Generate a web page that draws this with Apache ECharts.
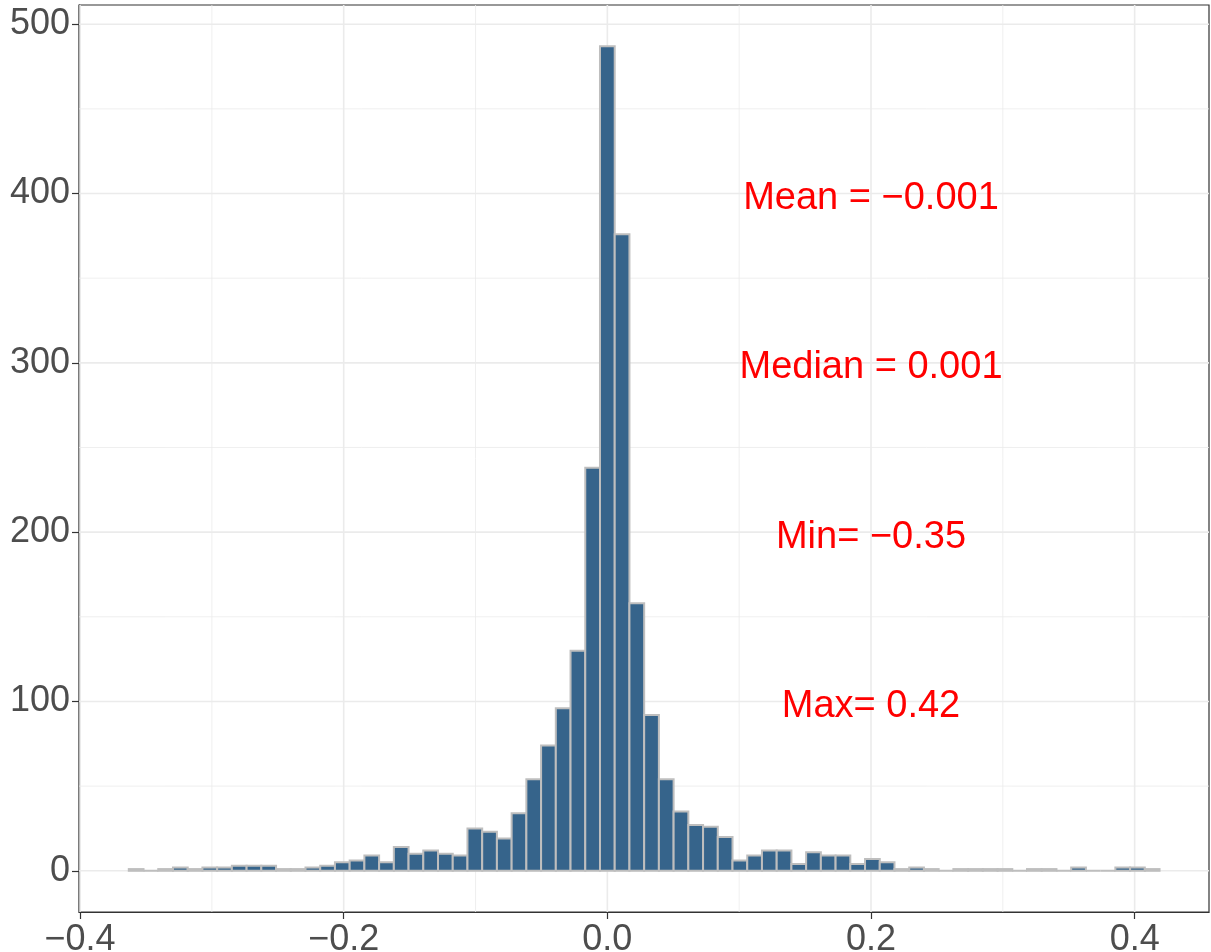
<!DOCTYPE html>
<html>
<head>
<meta charset="utf-8">
<script src="https://cdn.jsdelivr.net/npm/echarts@6/dist/echarts.min.js"></script>
<style>
  html, body { margin: 0; padding: 0; background: #ffffff; }
  #chart { width: 1211px; height: 952px; }
</style>
</head>
<body>
<div id="chart"></div>
<script>
// Histogram of returns: 70 bins centred on multiples of the bin width
const binWidth = 0.01117;
const firstBinIndex = -32;
const counts = [
  1, 0, 1, 2, 1, 2, 2, 3, 3, 3,
  1, 1, 2, 3, 5, 6, 9, 5, 14, 10,
  12, 10, 9, 25, 23, 19, 34, 54, 74, 96,
  130, 238, 487, 376, 158, 92, 54, 35, 27, 26,
  20, 6, 9, 12, 12, 4, 11, 9, 9, 4,
  7, 5, 1, 2, 1, 0, 1, 1, 1, 1,
  0, 1, 1, 0, 2, 0, 0, 2, 2, 1
];

// Axis breaks
const xTicks = [-0.4, -0.2, 0, 0.2, 0.4];
const xMinorBreaks = [-0.3, -0.1, 0.1, 0.3];
const yTicks = [0, 100, 200, 300, 400, 500];
const yMinorBreaks = [50, 150, 250, 350, 450];

// Summary statistics written on the panel
const statLabels = ['Mean = \u22120.001', 'Median = 0.001', 'Min= \u22120.35', 'Max= 0.42'];
const statX = [0.2, 0.2, 0.2, 0.2];
const statY = [400, 300, 200, 100];

const FONT = '"Liberation Sans", Arial, Helvetica, sans-serif';
const xRange = [-0.4008, 0.4564];
const yRange = [-24.35, 511.35];

const bins = counts.map((c, i) => {
  const k = firstBinIndex + i;
  return [(k - 0.5) * binWidth, (k + 0.5) * binWidth, c];
});

// grid lines: [orientation (0 vertical, 1 horizontal), value, major flag]
const gridLines = []
  .concat(xMinorBreaks.map(v => [0, v, 0]))
  .concat(yMinorBreaks.map(v => [1, v, 0]))
  .concat(xTicks.map(v => [0, v, 1]))
  .concat(yTicks.map(v => [1, v, 1]));

const statData = statLabels.map((t, i) => [statX[i], statY[i], i]);

function fmtNum(v) {
  const s = Math.abs(v).toFixed(1);
  return v < -1e-9 ? '\u2212' + s : s;
}

const axisColor = '#333333';

const chart = echarts.init(document.getElementById('chart'), null, { renderer: 'canvas' });

chart.setOption({
  animation: false,
  backgroundColor: '#ffffff',
  grid: {
    left: 79, right: 2, top: 5, bottom: 40,
    outerBoundsMode: 'none',
    containLabel: false,
    show: true,
    backgroundColor: 'transparent',
    borderColor: axisColor,
    borderWidth: 1.2
  },
  xAxis: {
    type: 'value',
    position: 'bottom',
    min: xRange[0],
    max: xRange[1],
    axisLine: { show: true, onZero: false, lineStyle: { color: axisColor, width: 1.2 } },
    splitLine: { show: false },
    axisTick: {
      show: true, inside: false, length: 7,
      customValues: xTicks,
      lineStyle: { color: axisColor, width: 1.2 }
    },
    axisLabel: {
      customValues: xTicks,
      formatter: fmtNum,
      color: '#4D4D4D',
      fontSize: 36,
      fontFamily: FONT,
      margin: 10
    }
  },
  yAxis: {
    type: 'value',
    position: 'left',
    min: yRange[0],
    max: yRange[1],
    axisLine: { show: true, onZero: false, lineStyle: { color: axisColor, width: 1.2 } },
    splitLine: { show: false },
    axisTick: {
      show: true, inside: false, length: 7,
      customValues: yTicks,
      lineStyle: { color: axisColor, width: 1.2 }
    },
    axisLabel: {
      customValues: yTicks,
      formatter: v => String(Math.round(v)),
      color: '#4D4D4D',
      fontSize: 36,
      fontFamily: FONT,
      margin: 9,
      padding: [6, 0, 0, 0]
    }
  },
  series: [
    {
      type: 'custom',
      silent: true,
      z: 1,
      data: gridLines,
      encode: { x: -1, y: -1 },
      renderItem: function (params, api) {
        const cs = params.coordSys;
        const orient = api.value(0);
        const v = api.value(1);
        const major = api.value(2) === 1;
        let shape;
        if (orient === 0) {
          const x = api.coord([v, 0])[0];
          shape = { x1: x, y1: cs.y, x2: x, y2: cs.y + cs.height };
        } else {
          const y = api.coord([0, v])[1];
          shape = { x1: cs.x, y1: y, x2: cs.x + cs.width, y2: y };
        }
        return {
          type: 'line',
          shape: shape,
          style: { stroke: '#EBEBEB', lineWidth: major ? 1.6 : 0.8 }
        };
      }
    },
    {
      type: 'custom',
      z: 3,
      data: bins,
      encode: { x: [0, 1], y: 2 },
      renderItem: function (params, api) {
        const top = api.coord([api.value(0), api.value(2)]);
        const bottom = api.coord([api.value(1), 0]);
        return {
          type: 'rect',
          shape: {
            x: top[0],
            y: top[1],
            width: bottom[0] - top[0],
            height: bottom[1] - top[1]
          },
          style: { fill: '#36648B', stroke: '#BEBEBE', lineWidth: 2 }
        };
      }
    },
    {
      type: 'custom',
      z: 4,
      silent: true,
      data: statData,
      encode: { x: 0, y: 1 },
      renderItem: function (params, api) {
        const p = api.coord([api.value(0), api.value(1)]);
        return {
          type: 'text',
          x: p[0],
          y: p[1] + 5,
          style: {
            text: statLabels[api.value(2)],
            fill: '#FF0000',
            font: '38px ' + FONT,
            align: 'center',
            verticalAlign: 'middle'
          }
        };
      }
    }
  ]
});
</script>
</body>
</html>
